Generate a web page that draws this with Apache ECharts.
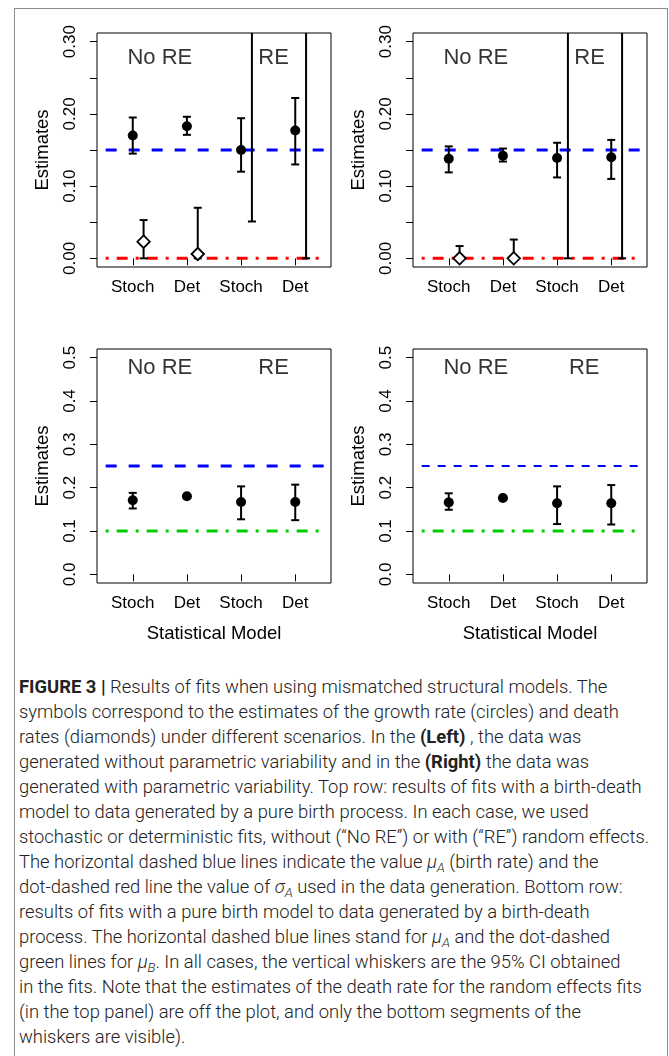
<!DOCTYPE html>
<html>
<head>
<meta charset="utf-8">
<script src="https://cdn.jsdelivr.net/npm/echarts@6/dist/echarts.min.js"></script>
<style>
  html, body { margin: 0; padding: 0; width: 669px; height: 1056px; overflow: hidden; background: #fff; }
  #frame { position: absolute; left: 14px; top: 8px; width: 652px; height: 1100px; border: 1px solid #8c8c8c; }
  #chart { position: absolute; left: 0; top: 0; width: 669px; height: 660px; }
  #caption { position: absolute; left: 19px; top: 674px; font-family: Roboto, "Liberation Sans", sans-serif;
             font-weight: 300; font-size: 18.4px; line-height: 25px; color: #222; white-space: nowrap; }
  #caption b { font-weight: 700; }
  #caption i { font-style: italic; }
  #caption sub { font-size: 0.72em; vertical-align: -0.3em; line-height: 0; }
</style>
</head>
<body>
<div id="frame"></div>
<div id="chart"></div>
<div id="caption">
  <div><b>FIGURE 3 |</b> Results of fits when using mismatched structural models. The</div>
  <div>symbols correspond to the estimates of the growth rate (circles) and death</div>
  <div>rates (diamonds) under different scenarios. In the <b>(Left)</b> , the data was</div>
  <div>generated without parametric variability and in the <b>(Right)</b> the data was</div>
  <div>generated with parametric variability. Top row: results of fits with a birth-death</div>
  <div>model to data generated by a pure birth process. In each case, we used</div>
  <div>stochastic or deterministic fits, without (“No RE”) or with (“RE”) random effects.</div>
  <div>The horizontal dashed blue lines indicate the value <i>μ<sub>A</sub></i> (birth rate) and the</div>
  <div>dot-dashed red line the value of <i>σ<sub>A</sub></i> used in the data generation. Bottom row:</div>
  <div>results of fits with a pure birth model to data generated by a birth-death</div>
  <div>process. The horizontal dashed blue lines stand for <i>μ<sub>A</sub></i> and the dot-dashed</div>
  <div>green lines for <i>μ<sub>B</sub></i>. In all cases, the vertical whiskers are the 95% CI obtained</div>
  <div>in the fits. Note that the estimates of the death rate for the random effects fits</div>
  <div>(in the top panel) are off the plot, and only the bottom segments of the</div>
  <div>whiskers are visible).</div>
</div>
<script>
// Fit types along the x axis (positions 1..4); death-rate marks sit 0.2 to the right.
const categories = ['Stoch', 'Det', 'Stoch', 'Det'];
const catX = [1, 2, 3, 4];
const deathShift = 0.2;

// Top left: birth-death fits to pure-birth data, no parametric variability
const tlGrowth     = [0.170, 0.183, 0.150, 0.177];
const tlGrowthLow  = [0.145, 0.171, 0.120, 0.130];
const tlGrowthHigh = [0.195, 0.196, 0.194, 0.222];
const tlDeath      = [0.023, 0.006, null, null];   // RE estimates lie above the axis range
const tlDeathLow   = [0.000, 0.000, 0.051, 0.000];
const tlDeathHigh  = [0.053, 0.070, 0.400, 0.400]; // RE upper limits beyond the axis range

// Top right: same fits, data with parametric variability
const trGrowth     = [0.138, 0.142, 0.139, 0.140];
const trGrowthLow  = [0.119, 0.134, 0.112, 0.110];
const trGrowthHigh = [0.155, 0.152, 0.160, 0.164];
const trDeath      = [0.000, 0.000, null, null];
const trDeathLow   = [0.000, 0.000, 0.000, 0.000];
const trDeathHigh  = [0.017, 0.026, 0.400, 0.400];

// Bottom left: pure-birth fits to birth-death data, no parametric variability
const blGrowth     = [0.171, 0.180, 0.167, 0.167];
const blGrowthLow  = [0.152, 0.180, 0.127, 0.125];
const blGrowthHigh = [0.188, 0.180, 0.203, 0.207];

// Bottom right: same fits, data with parametric variability
const brGrowth     = [0.166, 0.176, 0.164, 0.164];
const brGrowthLow  = [0.149, 0.176, 0.116, 0.115];
const brGrowthHigh = [0.187, 0.176, 0.203, 0.206];

// Reference values used to generate the data
const topMuA = 0.15, topSigmaA = 0.0;
const bottomMuA = 0.25, bottomMuB = 0.10;

// Y axis ticks and labels
const topYTicks = [0, 0.05, 0.10, 0.15, 0.20, 0.25, 0.30];
const topYLabels = [0, 0.10, 0.20, 0.30];
const bottomYTicks = [0, 0.1, 0.2, 0.3, 0.4, 0.5];

// Group headings and where they sit (x in axis units)
const groupNames = ['No RE', 'RE'];
const tlGroupX = [1.5, 3.6], trGroupX = [1.5, 3.6], blGroupX = [1.5, 3.6], brGroupX = [1.5, 3.5];
const topGroupY = 0.28, bottomGroupY = 0.48;

const FONT = '"Liberation Sans", Arial, Helvetica, sans-serif';
const BLUE = '#0000ff', RED = '#ff0000', GREEN = '#00cd00';

const panels = [
  { grid: { left: 97, top: 33, width: 234, height: 234 }, yMin: -0.012, yMax: 0.312, yTicks: topYTicks, yLabels: topYLabels, digits: 2,
    growth: [tlGrowth, tlGrowthLow, tlGrowthHigh], death: [tlDeath, tlDeathLow, tlDeathHigh],
    refs: [{ v: topMuA, color: BLUE, width: 3, dash: [11, 12], end: 4.66 }, { v: topSigmaA, color: RED, width: 3, dash: [3, 8, 11, 8], end: 4.5 }],
    groupX: tlGroupX, groupY: topGroupY, xName: '' },
  { grid: { left: 413, top: 33, width: 234, height: 234 }, yMin: -0.012, yMax: 0.312, yTicks: topYTicks, yLabels: topYLabels, digits: 2,
    growth: [trGrowth, trGrowthLow, trGrowthHigh], death: [trDeath, trDeathLow, trDeathHigh],
    refs: [{ v: topMuA, color: BLUE, width: 3, dash: [11, 12], end: 4.66 }, { v: topSigmaA, color: RED, width: 3, dash: [3, 8, 11, 8], end: 4.5 }],
    groupX: trGroupX, groupY: topGroupY, xName: '' },
  { grid: { left: 97, top: 349, width: 234, height: 234 }, yMin: -0.02, yMax: 0.52, yTicks: bottomYTicks, yLabels: bottomYTicks, digits: 1,
    growth: [blGrowth, blGrowthLow, blGrowthHigh], death: null,
    refs: [{ v: bottomMuA, color: BLUE, width: 3, dash: [11, 12], end: 4.66 }, { v: bottomMuB, color: GREEN, width: 3, dash: [3, 8, 11, 8], end: 4.5 }],
    groupX: blGroupX, groupY: bottomGroupY, xName: 'Statistical Model' },
  { grid: { left: 413, top: 349, width: 234, height: 234 }, yMin: -0.02, yMax: 0.52, yTicks: bottomYTicks, yLabels: bottomYTicks, digits: 1,
    growth: [brGrowth, brGrowthLow, brGrowthHigh], death: null,
    refs: [{ v: bottomMuA, color: BLUE, width: 2, dash: [8, 8], end: 4.55 }, { v: bottomMuB, color: GREEN, width: 3, dash: [3, 8, 11, 8], end: 4.5 }],
    groupX: brGroupX, groupY: bottomGroupY, xName: 'Statistical Model' }
];

function renderWhisker(params, api) {
  const x = api.value(0);
  const pLo = api.coord([x, api.value(1)]);
  const pHi = api.coord([x, api.value(2)]);
  const cap = 4;
  const style = { stroke: '#000', lineWidth: 2 };
  return {
    type: 'group',
    children: [
      { type: 'line', shape: { x1: pLo[0], y1: pLo[1], x2: pHi[0], y2: pHi[1] }, style: style },
      { type: 'line', shape: { x1: pLo[0] - cap, y1: pLo[1], x2: pLo[0] + cap, y2: pLo[1] }, style: style },
      { type: 'line', shape: { x1: pHi[0] - cap, y1: pHi[1], x2: pHi[0] + cap, y2: pHi[1] }, style: style }
    ]
  };
}

const grid = [], xAxis = [], yAxis = [], series = [];
panels.forEach((p, i) => {
  grid.push(Object.assign({ show: true, borderColor: '#000', borderWidth: 1, backgroundColor: 'transparent' }, p.grid));
  xAxis.push({
    type: 'value', gridIndex: i, min: 0.34, max: 4.66,
    name: p.xName, nameLocation: 'middle', nameGap: 41,
    nameTextStyle: { fontFamily: FONT, fontSize: 18.5, color: '#000' },
    axisLine: { show: false }, splitLine: { show: false },
    axisTick: { show: true, customValues: catX, length: 7, lineStyle: { color: '#000', width: 1 } },
    axisLabel: { show: true, customValues: catX, margin: 12, fontFamily: FONT, fontSize: 17, color: '#000',
                 formatter: v => categories[Math.round(v) - 1] }
  });
  yAxis.push({
    type: 'value', gridIndex: i, min: p.yMin, max: p.yMax,
    name: 'Estimates', nameLocation: 'middle', nameGap: 45, nameRotate: 90,
    nameTextStyle: { fontFamily: FONT, fontSize: 18.5, color: '#000' },
    axisLine: { show: false }, splitLine: { show: false },
    axisTick: { show: true, customValues: p.yTicks, length: 7, lineStyle: { color: '#000', width: 1 } },
    axisLabel: { show: true, customValues: p.yLabels, rotate: 90, margin: 18, fontFamily: FONT, fontSize: 17, color: '#000',
                 formatter: v => v.toFixed(p.digits) }
  });

  p.refs.forEach(r => series.push({
    type: 'line', xAxisIndex: i, yAxisIndex: i, silent: true, symbol: 'none', z: 1, clip: true,
    data: [[0.5, r.v], [r.end, r.v]],
    lineStyle: { color: r.color, width: r.width, type: r.dash, opacity: 1 }
  }));

  const [est, lo, hi] = p.growth;
  series.push({
    type: 'custom', xAxisIndex: i, yAxisIndex: i, silent: true, clip: true, z: 2,
    renderItem: renderWhisker,
    data: catX.map((x, k) => [x, lo[k], hi[k]])
  });
  series.push({
    type: 'scatter', xAxisIndex: i, yAxisIndex: i, silent: true, z: 4,
    symbol: 'circle', symbolSize: 10, itemStyle: { color: '#000', opacity: 1 },
    data: catX.map((x, k) => [x, est[k]])
  });

  if (p.death) {
    const [dEst, dLo, dHi] = p.death;
    series.push({
      type: 'custom', xAxisIndex: i, yAxisIndex: i, silent: true, clip: true, z: 2,
      renderItem: renderWhisker,
      data: catX.map((x, k) => [x + deathShift, dLo[k], dHi[k]])
    });
    series.push({
      type: 'scatter', xAxisIndex: i, yAxisIndex: i, silent: true, z: 4, clip: true,
      symbol: 'diamond', symbolSize: 12.5,
      itemStyle: { color: '#fff', borderColor: '#000', borderWidth: 1.8, opacity: 1 },
      data: catX.map((x, k) => [x + deathShift, dEst[k]]).filter(d => d[1] !== null)
    });
  }

  series.push({
    type: 'scatter', xAxisIndex: i, yAxisIndex: i, silent: true, z: 5,
    symbolSize: 0,
    label: { show: true, position: 'inside', offset: [0, 2], formatter: q => q.value[2],
             fontFamily: FONT, fontSize: 22, color: '#000' },
    data: p.groupX.map((x, k) => [x, p.groupY, groupNames[k]])
  });
});

const chart = echarts.init(document.getElementById('chart'), null, { renderer: 'canvas' });
chart.setOption({ animation: false, backgroundColor: 'transparent', grid, xAxis, yAxis, series });
</script>
</body>
</html>
